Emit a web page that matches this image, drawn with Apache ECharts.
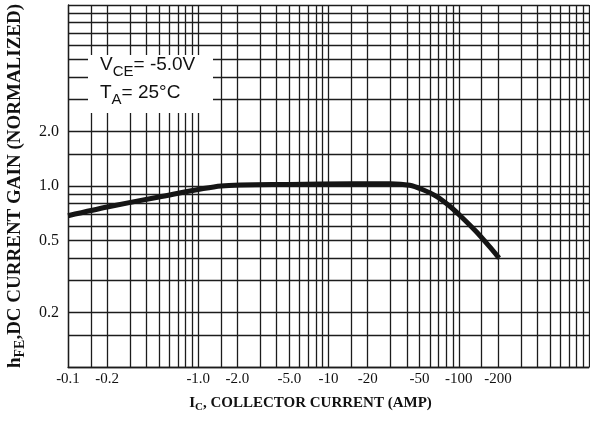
<!DOCTYPE html>
<html>
<head>
<meta charset="utf-8">
<script src="https://cdn.jsdelivr.net/npm/echarts@6/dist/echarts.min.js"></script>
<style>
html,body{margin:0;padding:0;background:#fff;}
#chart{width:590px;height:436px;}
</style>
</head>
<body>
<div id="chart"></div>
<script>
// Collector current magnitude (A) and normalized DC current gain
const currentAmp = [0.1, 0.2, 0.5, 1.5, 5, 15, 30, 42, 52, 67, 85, 106, 136, 171, 204];
const gainNorm   = [0.685, 0.765, 0.87, 1.0, 1.02, 1.03, 1.03, 1.01, 0.96, 0.88, 0.775, 0.67, 0.56, 0.465, 0.40];

// Axis tick labels
const xTickValues = [0.1, 0.2, 1, 2, 5, 10, 20, 50, 100, 200];
const xTickLabels = ['-0.1', '-0.2', '-1.0', '-2.0', '-5.0', '-10', '-20', '-50', '-100', '-200'];
const yTickValues = [0.2, 0.5, 1, 2];
const yTickLabels = ['0.2', '0.5', '1.0', '2.0'];

// Log-paper grid lines
const xGridValues = [0.1, 0.15, 0.2, 0.3, 0.4, 0.5, 0.6, 0.7, 0.8, 0.9,
                     1, 1.5, 2, 3, 4, 5, 6, 7, 8, 9,
                     10, 15, 20, 30, 40, 50, 60, 70, 80, 90,
                     100, 150, 200, 300, 400, 500, 600, 700, 800, 900, 1000];
const yGridValues = [0.1, 0.15, 0.2, 0.3, 0.4, 0.5, 0.6, 0.7, 0.8, 0.9,
                     1, 1.5, 2, 3, 4, 5, 6, 7, 8, 9, 10];

function lookup(values, labels, v) {
  let best = 0, bd = Infinity;
  for (let i = 0; i < values.length; i++) {
    const d = Math.abs(Math.log10(values[i]) - Math.log10(v));
    if (d < bd) { bd = d; best = i; }
  }
  return bd < 0.01 ? labels[best] : '';
}

const serif = '"Liberation Serif", "Times New Roman", serif';
const sans = '"Liberation Sans", Arial, sans-serif';
const gridLine = { show: true, lineStyle: { color: '#1c1c1c', width: 1.3 } };

const chart = echarts.init(document.getElementById('chart'), null, { renderer: 'canvas' });
chart.setOption({
  animation: false,
  backgroundColor: '#ffffff',
  grid: { left: 68, right: 1, top: 5, bottom: 69, containLabel: false, outerBoundsMode: 'none' },
  xAxis: {
    type: 'log', logBase: 10, min: 0.1, max: 1000,
    axisLine: { show: true, lineStyle: { color: '#1c1c1c', width: 1.3 } },
    axisTick: { show: false, customValues: xGridValues },
    splitLine: gridLine,
    axisLabel: {
      customValues: xTickValues,
      formatter: v => lookup(xTickValues, xTickLabels, v),
      fontFamily: serif, fontSize: 15, color: '#111', margin: 5
    },
    name: '{b|I}{s|C}{b|, COLLECTOR CURRENT (AMP)}',
    nameLocation: 'middle', nameGap: 26,
    nameTextStyle: {
      padding: [0, 36, 0, 0],
      rich: {
        b: { fontFamily: serif, fontWeight: 'bold', fontSize: 15, color: '#111', lineHeight: 20 },
        s: { fontFamily: serif, fontWeight: 'bold', fontSize: 11, color: '#111', verticalAlign: 'bottom' }
      }
    }
  },
  yAxis: {
    type: 'log', logBase: 10, min: 0.1, max: 10,
    axisLine: { show: true, lineStyle: { color: '#1c1c1c', width: 1.3 } },
    axisTick: { show: false, customValues: yGridValues },
    splitLine: gridLine,
    axisLabel: {
      customValues: yTickValues,
      formatter: v => lookup(yTickValues, yTickLabels, v),
      fontFamily: serif, fontSize: 16, color: '#111', margin: 9
    },
    name: '{b|h}{s|FE}{b|,DC CURRENT GAIN (NORMALIZED)}',
    nameLocation: 'middle', nameRotate: 90, nameGap: 41,
    nameTextStyle: {
      rich: {
        b: { fontFamily: serif, fontWeight: 'bold', fontSize: 19, color: '#111', lineHeight: 24 },
        s: { fontFamily: serif, fontWeight: 'bold', fontSize: 14, color: '#111', verticalAlign: 'bottom' }
      }
    }
  },
  graphic: [
    { type: 'rect', z: 100, shape: { x: 88, y: 55, width: 125, height: 58 }, style: { fill: '#ffffff' } },
    {
      type: 'text', z: 101, x: 100, y: 51,
      style: {
        text: '{b|V}{s|CE}{b|= -5.0V}\n{b|T}{s|A}{b|= 25°C}',
        rich: {
          b: { fontFamily: sans, fontSize: 19, fill: '#111', lineHeight: 28 },
          s: { fontFamily: sans, fontSize: 15, fill: '#111', verticalAlign: 'bottom', lineHeight: 18 }
        }
      }
    }
  ],
  series: [{
    type: 'line',
    data: currentAmp.map((x, i) => [x, gainNorm[i]]),
    showSymbol: false,
    smooth: 0.25,
    lineStyle: { color: '#151515', width: 5 },
    z: 10
  }]
});
</script>
</body>
</html>
